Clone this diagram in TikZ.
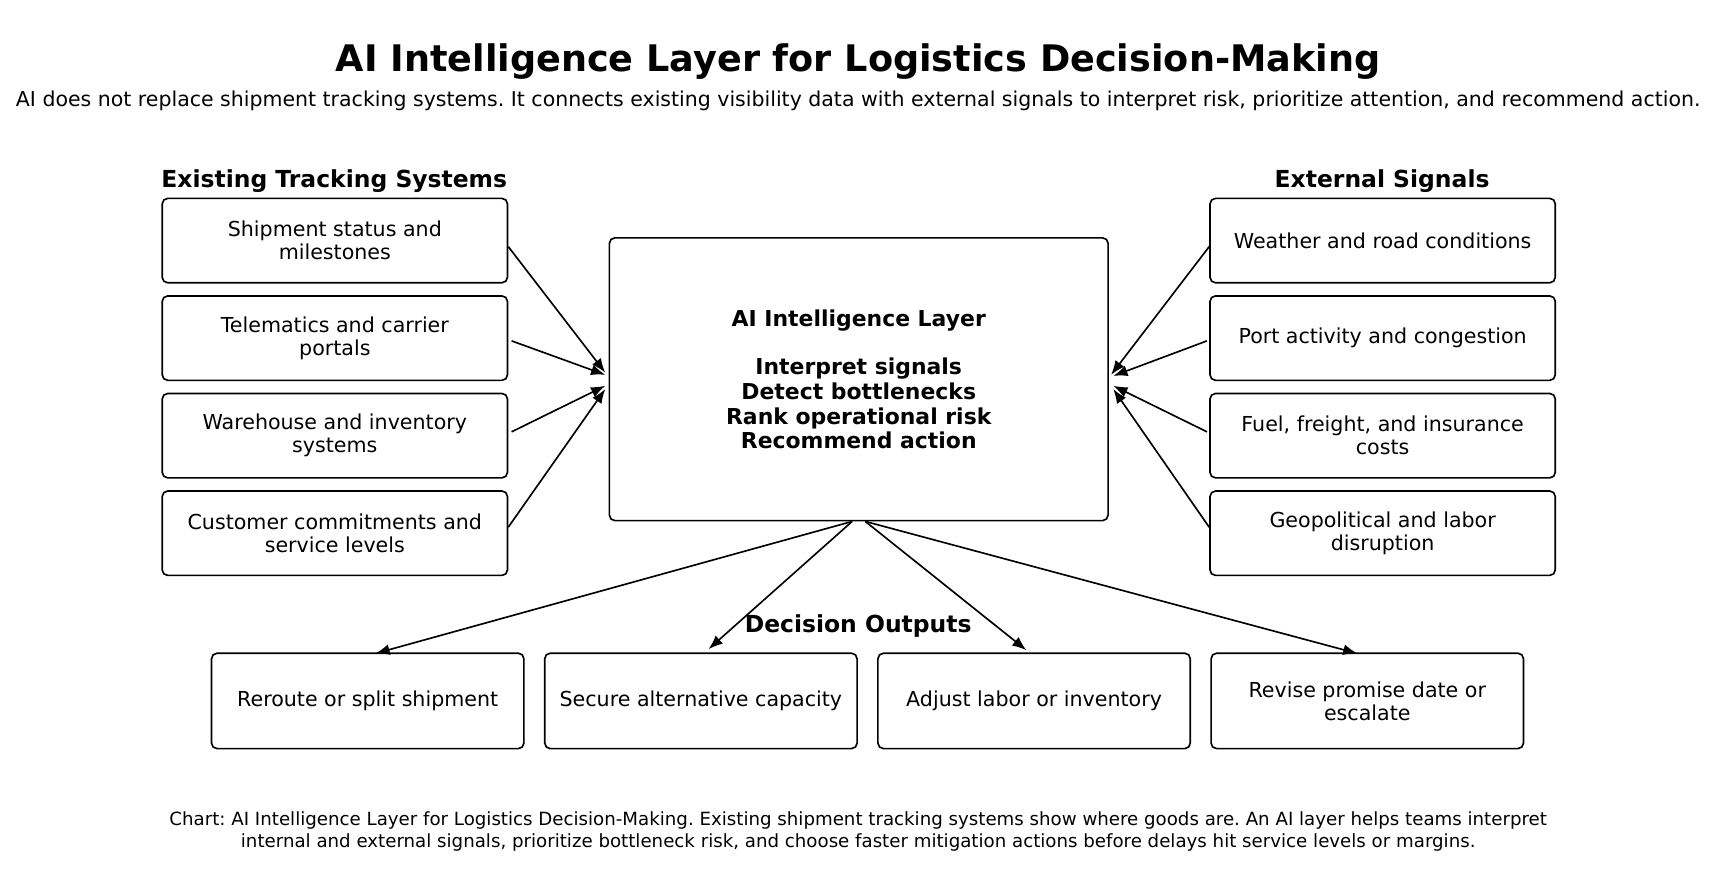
\documentclass[tikz,border=0pt]{standalone}
\usepackage{fontspec}
\setmainfont{DejaVu Sans}
\usetikzlibrary{arrows.meta,calc}
\frenchspacing
\begin{document}
\begin{tikzpicture}[x=1pt,y=-1pt,
  box/.style={draw,line width=1.5pt,rounded corners=5pt,align=center,inner sep=0pt,font=\fontsize{18.8}{21}\selectfont},
  arr/.style={-{Latex[length=13pt,width=10pt]},line width=1.5pt},
  hdr/.style={font=\fontsize{21.4}{24}\selectfont\bfseries}]
\useasboundingbox[fill=white] (0,0) rectangle (1567.5,816.6);
\node[font=\fontsize{33.4}{38}\selectfont\bfseries] (title) at (783,56) {AI Intelligence Layer for Logistics Decision-Making};
\node[font=\fontsize{18.7}{21}\selectfont] (sub) at (783,92) {AI does not replace shipment tracking systems. It connects existing visibility data with external signals to interpret risk, prioritize attention, and recommend action.};
\node[hdr] (hl) at (305,165) {Existing Tracking Systems};
\node[hdr] (hr) at (1261,165) {External Signals};
\node[hdr] (hd) at (783,571) {Decision Outputs};
\foreach \n/\y/\t in {l1/219.5/{Shipment status and\\milestones},l2/308.5/{Telematics and carrier\\portals},l3/397.5/{Warehouse and inventory\\systems},l4/486.5/{Customer commitments and\\service levels}}
  \node[box,minimum width=315pt,minimum height=77pt] (\n) at (305.5,\y) {\t};
\foreach \n/\y/\t in {r1/219.5/{Weather and road conditions},r2/308.5/{Port activity and congestion},r3/397.5/{Fuel, freight, and insurance\\costs},r4/486.5/{Geopolitical and labor\\disruption}}
  \node[box,minimum width=315pt,minimum height=77pt] (\n) at (1261.5,\y) {\t};
\foreach \n/\x/\t in {b1/335.5/{Reroute or split shipment},b2/639.5/{Secure alternative capacity},b3/943.5/{Adjust labor or inventory},b4/1247.5/{Revise promise date or\\escalate}}
  \node[box,minimum width=285pt,minimum height=87pt] (\n) at (\x,639.5) {\t};
\node[box,minimum width=455pt,minimum height=258pt,font=\fontsize{20}{22.5}\selectfont\bfseries] (c) at (783.5,346) {AI Intelligence Layer\\[22pt]Interpret signals\\Detect bottlenecks\\Rank operational risk\\Recommend action};
\draw[arr] ($(l1.east)+(0,5.5)$) -- ($(c.west)+(-3,-6)$);
\draw[arr] ($(l2.east)+(3,2.5)$) -- ($(c.west)+(-3,-4)$);
\draw[arr] ($(l3.east)+(3,-3.5)$) -- ($(c.west)+(-3,6)$);
\draw[arr] ($(l4.east)+(0,-5.5)$) -- ($(c.west)+(-3,9)$);
\draw[arr] ($(r1.west)+(0,5.5)$) -- ($(c.east)+(2,-4)$);
\draw[arr] ($(r2.west)+(-2,2.5)$) -- ($(c.east)+(4,-3)$);
\draw[arr] ($(r3.west)+(-2,-3.5)$) -- ($(c.east)+(4,6)$);
\draw[arr] ($(r4.west)+(0,-5.5)$) -- ($(c.east)+(4,9)$);
\draw[arr] ($(c.south)+(-6,0)$) -- ($(b1.north)+(7,1)$);
\draw[arr] ($(c.south)+(-6,0)$) -- ($(b2.north)+(7,-3)$);
\draw[arr] ($(c.south)+(6,0)$) -- ($(b3.north)+(-7,-2)$);
\draw[arr] ($(c.south)+(6,0)$) -- ($(b4.north)+(-9,1)$);
\node[font=\fontsize{16.6}{19.5}\selectfont,align=center] (cap) at (783,758.5) {Chart: AI Intelligence Layer for Logistics Decision-Making. Existing shipment tracking systems show where goods are. An AI layer helps teams interpret\\internal and external signals, prioritize bottleneck risk, and choose faster mitigation actions before delays hit service levels or margins.};
\end{tikzpicture}
\end{document}
